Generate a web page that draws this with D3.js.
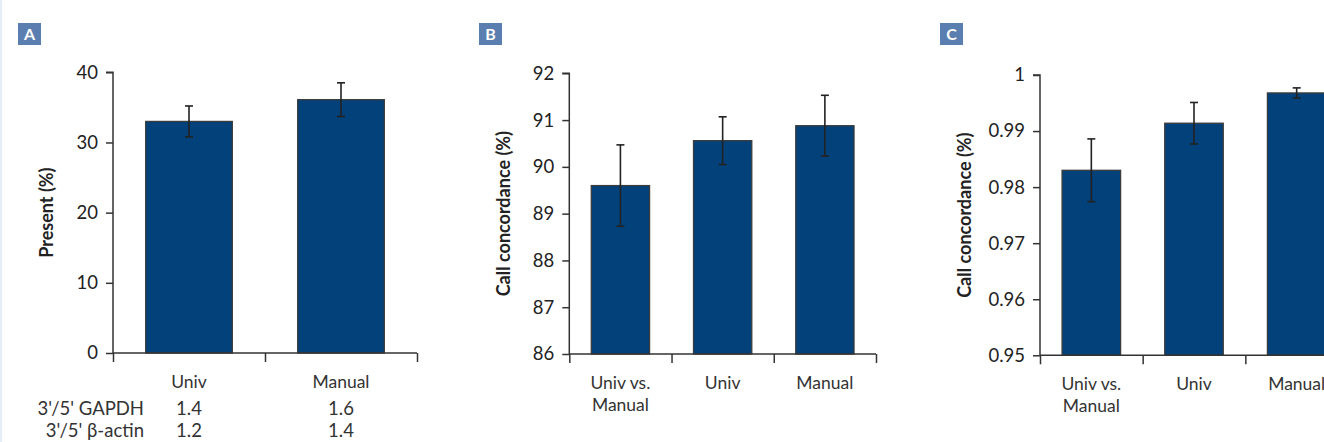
<!DOCTYPE html>
<html>
<head>
<meta charset="utf-8">
<script src="https://cdn.jsdelivr.net/npm/d3@7"></script>
<style>
  html, body { margin: 0; padding: 0; background: #fff; }
  svg { display: block; }
  text { font-family: Lato, "Open Sans", sans-serif; fill: #222; }
</style>
</head>
<body>
<svg id="fig" width="1324" height="442"></svg>
<script>
// ---- data ----
const catsA = ["Univ", "Manual"];
const meanA = [33.0, 36.1];
const errA = [2.2, 2.4];
const ticksA = [0, 10, 20, 30, 40];

const catsB = [["Univ vs.", "Manual"], ["Univ"], ["Manual"]];
const meanB = [89.6, 90.56, 90.88];
const errB = [0.87, 0.51, 0.65];
const ticksB = [86, 87, 88, 89, 90, 91, 92];

const catsC = [["Univ vs.", "Manual"], ["Univ"], ["Manual"]];
const meanC = [0.9830, 0.9914, 0.9968];
const errC = [0.0056, 0.0037, 0.0009];
const ticksC = [0.95, 0.96, 0.97, 0.98, 0.99, 1];
const tickLabelsC = ["0.95", "0.96", "0.97", "0.98", "0.99", "1"];

const tableRows = ["3'/5' GAPDH", "3'/5' \u03B2-actin"];
const gapdh = ["1.4", "1.6"];
const bactin = ["1.2", "1.4"];

// ---- styling ----
const BAR = "#02417a";
const BAR_EDGE = "#3c3c3c";
const AXIS = "#333";
const TAG = "#5b7eb0";
const LABEL_SIZE = "17.5px";

const svg = d3.select("#fig");
svg.append("rect").attr("x", 0).attr("y", 0).attr("width", 2).attr("height", 442).attr("fill", "#e4edf6");

function panel(opt) {
  const g = svg.append("g");
  const x = d3.scaleBand().domain(d3.range(opt.means.length)).range([opt.x0, opt.x1]).padding(0);
  const xEdge = d3.scaleLinear().domain([0, opt.means.length]).range([opt.x0, opt.x1]);
  const y = d3.scaleLinear().domain(opt.domain).range([opt.yBot, opt.yTop]);
  const barW = x.bandwidth() * 0.57;

  // panel tag
  g.append("rect").attr("x", opt.tagX).attr("y", 23).attr("width", 23).attr("height", 22).attr("fill", TAG);
  g.append("text").attr("x", opt.tagX + 11.5).attr("y", 40).attr("text-anchor", "middle")
    .style("fill", "#fff").style("font-weight", "bold").style("font-size", "16px").text(opt.tag);

  // bars
  g.selectAll("rect.bar").data(opt.means).join("rect").attr("class", "bar")
    .attr("x", (d, i) => x(i) + (x.bandwidth() - barW) / 2)
    .attr("width", barW)
    .attr("y", d => y(d))
    .attr("height", d => y(opt.domain[0]) - y(d))
    .attr("fill", BAR).attr("stroke", BAR_EDGE).attr("stroke-width", 1.3);

  // error bars
  const eb = g.selectAll("g.err").data(opt.means).join("g").attr("class", "err")
    .attr("stroke", "#222").attr("stroke-width", 1.6);
  const cx = i => x(i) + x.bandwidth() / 2;
  eb.append("line").attr("x1", (d, i) => cx(i)).attr("x2", (d, i) => cx(i))
    .attr("y1", (d, i) => y(d + opt.errs[i])).attr("y2", (d, i) => y(d - opt.errs[i]));
  eb.append("line").attr("x1", (d, i) => cx(i) - 4).attr("x2", (d, i) => cx(i) + 4)
    .attr("y1", (d, i) => y(d + opt.errs[i])).attr("y2", (d, i) => y(d + opt.errs[i]));
  eb.append("line").attr("x1", (d, i) => cx(i) - 4).attr("x2", (d, i) => cx(i) + 4)
    .attr("y1", (d, i) => y(d - opt.errs[i])).attr("y2", (d, i) => y(d - opt.errs[i]));

  // y axis
  const yAxis = d3.axisLeft(y).tickValues(opt.ticks).tickSize(7).tickPadding(8)
    .tickFormat((d, i) => opt.tickLabels ? opt.tickLabels[i] : String(d));
  const ya = g.append("g").attr("transform", `translate(${opt.x0},0)`).call(yAxis);
  ya.select(".domain").attr("d", `M-7,${opt.yTop}H0V${opt.yBot}`);
  ya.selectAll("path, line").attr("stroke", AXIS).attr("stroke-width", 1.5);
  ya.selectAll("text").style("font-size", "18.5px").style("font-family", "Lato, sans-serif").attr("fill", "#333");

  // x axis (band edges)
  const xAxis = d3.axisBottom(xEdge).tickValues(d3.range(opt.means.length + 1)).tickSize(9).tickFormat("");
  const xa = g.append("g").attr("transform", `translate(0,${opt.yBot})`).call(xAxis);
  xa.select(".domain").attr("d", `M${opt.x0},0H${opt.x1}`);
  xa.selectAll("path, line").attr("stroke", AXIS).attr("stroke-width", 1.5);

  // category labels
  opt.cats.forEach((c, i) => {
    const lines = Array.isArray(c) ? c : [c];
    lines.forEach((t, k) => {
      g.append("text").attr("x", cx(i)).attr("y", opt.yBot + 35 + k * 21.5)
        .attr("text-anchor", "middle").style("font-size", LABEL_SIZE).style("fill", "#333").text(t);
    });
  });

  // axis title
  g.append("text").attr("transform", `translate(${opt.titleX},${(opt.yTop + opt.yBot) / 2}) rotate(-90)`)
    .attr("text-anchor", "middle").attr("dy", "0.35em")
    .style("font-weight", "bold").style("font-size", "18px").style("fill", "#222").text(opt.title);

  return { cx };
}

const pA = panel({ tag: "A", tagX: 18, x0: 113, x1: 417, yTop: 72.3, yBot: 353, domain: [0, 40],
  ticks: ticksA, means: meanA, errs: errA, cats: catsA, title: "Present (%)", titleX: 47 });

panel({ tag: "B", tagX: 479, x0: 569.3, x1: 876, yTop: 73.3, yBot: 354, domain: [86, 92],
  ticks: ticksB, means: meanB, errs: errB, cats: catsB, title: "Call concordance (%)", titleX: 504 });

panel({ tag: "C", tagX: 940, x0: 1040, x1: 1348, yTop: 75, yBot: 355.3, domain: [0.95, 1],
  ticks: ticksC, tickLabels: tickLabelsC, means: meanC, errs: errC, cats: catsC,
  title: "Call concordance (%)", titleX: 965 });

// ratio table under panel A
const rows = [gapdh, bactin];
tableRows.forEach((lab, r) => {
  const yy = 415 + r * 21.5;
  svg.append("text").attr("x", 144).attr("y", yy).attr("text-anchor", "end")
    .style("font-size", "18.5px").style("fill", "#333").text(lab);
  rows[r].forEach((v, i) => {
    svg.append("text").attr("x", pA.cx(i)).attr("y", yy).attr("text-anchor", "middle")
      .style("font-size", "18.5px").style("fill", "#333").text(v);
  });
});
</script>
</body>
</html>
